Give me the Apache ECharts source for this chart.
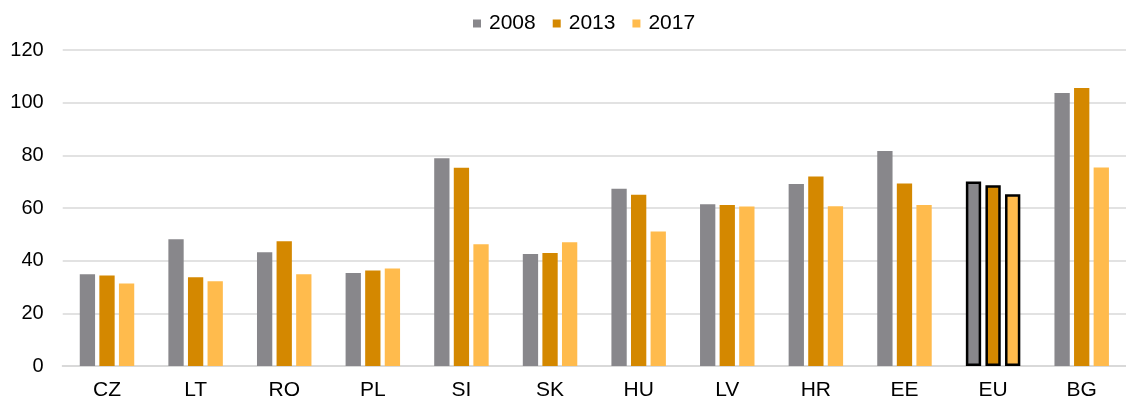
<!DOCTYPE html>
<html>
<head>
<meta charset="utf-8">
<script src="https://cdn.jsdelivr.net/npm/echarts@6/dist/echarts.min.js"></script>
<style>
  html, body { margin: 0; padding: 0; background: #fff; }
  #chart { width: 1126px; height: 403px; }
</style>
</head>
<body>
<div id="chart"></div>
<script>
// categories and series values
var countries = ['CZ', 'LT', 'RO', 'PL', 'SI', 'SK', 'HU', 'LV', 'HR', 'EE', 'EU', 'BG'];
var years = ['2008', '2013', '2017'];
var data2008 = [34.8, 48.1, 43.2, 35.3, 78.9, 42.5, 67.3, 61.4, 69.1, 81.6, 70.1, 103.7];
var data2013 = [34.4, 33.7, 47.4, 36.3, 75.3, 42.9, 65.0, 61.1, 72.0, 69.3, 68.6, 105.6];
var data2017 = [31.3, 32.2, 34.8, 37.0, 46.2, 47.0, 51.1, 60.6, 60.7, 61.1, 65.2, 75.4];
var yTicks = [0, 20, 40, 60, 80, 100, 120];

var colors = ['#88878b', '#d48800', '#ffbb4d'];
var highlight = 'EU';

// EU bars get a black outline
function buildData(values) {
    return values.map(function (v, i) {
        if (countries[i] == highlight) {
            return { value: v, itemStyle: { borderColor: '#000', borderWidth: 2.5 } };
        }
        return v;
    });
}

var allData = [data2008, data2013, data2017];

var series = years.map(function (y, i) {
    return {
        name: y,
        type: 'bar',
        barWidth: 15.3,
        barGap: '28%',
        itemStyle: { color: colors[i] },
        data: buildData(allData[i])
    };
});

var option = {
    animation: false,
    color: colors,
    textStyle: { fontFamily: 'Liberation Sans, Arial, sans-serif' },
    legend: {
        data: years,
        left: 473,
        top: 13,
        padding: 0,
        itemWidth: 8,
        itemHeight: 8,
        itemGap: 17,
        icon: 'rect',
        textStyle: { fontSize: 21, color: '#000', padding: [0, 0, 0, 3] }
    },
    grid: {
        left: 62.7,
        top: 50,
        width: 1071.6,
        height: 316
    },
    xAxis: {
        type: 'category',
        data: countries,
        axisLine: { lineStyle: { color: '#d9d9d9', width: 2 } },
        axisTick: { show: false },
        axisLabel: { fontSize: 21, color: '#000', margin: 14 }
    },
    yAxis: {
        type: 'value',
        min: yTicks[0],
        max: yTicks[yTicks.length - 1],
        interval: 20,
        axisLine: { show: false },
        axisTick: { show: false },
        axisLabel: { fontSize: 20, color: '#000', margin: 19 },
        splitLine: { lineStyle: { color: '#d9d9d9', width: 1.5 } }
    },
    series: series
};

var chart = echarts.init(document.getElementById('chart'));
chart.setOption(option);
</script>
</body>
</html>
